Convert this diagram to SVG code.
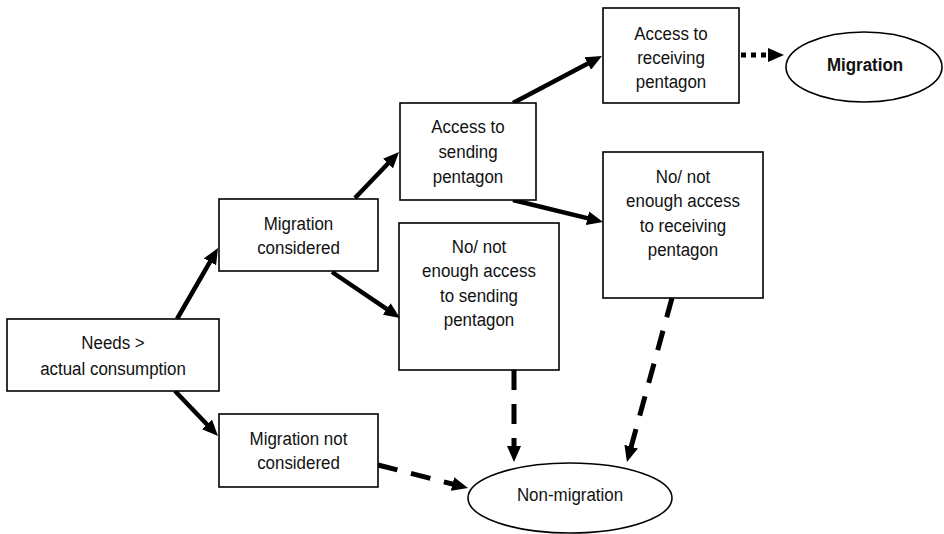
<svg xmlns="http://www.w3.org/2000/svg" width="944" height="534" viewBox="0 0 944 534">
<style>
.box{fill:#fff;stroke:#000;stroke-width:1.6}
.t{font-family:"Liberation Sans",Arial,sans-serif;font-size:18.8px;fill:#111;text-anchor:middle}
.b{font-weight:bold}
.solid{fill:none;stroke:#000;stroke-width:4.5;marker-end:url(#ah)}
.dash{fill:none;stroke:#000;stroke-width:5;stroke-dasharray:20 14;marker-end:url(#ah)}
.dot{fill:none;stroke:#000;stroke-width:5;stroke-dasharray:5 5;marker-end:url(#ah)}
</style>
<defs>
<marker id="ah" markerUnits="userSpaceOnUse" markerWidth="16" markerHeight="14" refX="6" refY="7" orient="auto">
<path d="M0,0 L16,7 L0,14 z" fill="#000"/>
</marker>
</defs>
<rect width="944" height="534" fill="#fff"/>
<g id="connectors">
<line class="solid" x1="177" y1="319" x2="213" y2="256.7"/>
<line class="solid" x1="175" y1="391" x2="211.1" y2="428.8"/>
<line class="solid" x1="332" y1="272" x2="391.7" y2="312.4"/>
<line class="solid" x1="355" y1="198" x2="392.1" y2="159.2"/>
<line class="solid" x1="513" y1="103" x2="593.1" y2="60.7"/>
<line class="solid" x1="513" y1="200" x2="593.3" y2="219.6"/>
<line class="dot" x1="741" y1="55" x2="774" y2="55"/>
<line class="dash" x1="514" y1="370" x2="514" y2="452"/>
<line class="dash" x1="672" y1="298" x2="629.6" y2="452.4"/>
<line class="dash" x1="378" y1="465" x2="458.3" y2="485.5"/>
</g>
<g id="needs">
<rect class="box" x="7" y="319" width="212" height="72"/>
<text class="t" transform="translate(113 349) scale(0.9 1)">Needs &gt;</text>
<text class="t" transform="translate(113 375) scale(0.9 1)">actual consumption</text>
</g>
<g id="migration-considered">
<rect class="box" x="219" y="199" width="159" height="72"/>
<text class="t" transform="translate(298.5 230) scale(0.9 1)">Migration</text>
<text class="t" transform="translate(298.5 254) scale(0.9 1)">considered</text>
</g>
<g id="migration-not-considered">
<rect class="box" x="219" y="414" width="159" height="73"/>
<text class="t" transform="translate(298.5 445) scale(0.9 1)">Migration not</text>
<text class="t" transform="translate(298.5 469) scale(0.9 1)">considered</text>
</g>
<g id="access-sending">
<rect class="box" x="400" y="103" width="136" height="97"/>
<text class="t" transform="translate(468 133) scale(0.9 1)">Access to</text>
<text class="t" transform="translate(468 158) scale(0.9 1)">sending</text>
<text class="t" transform="translate(468 183) scale(0.9 1)">pentagon</text>
</g>
<g id="no-access-sending">
<rect class="box" x="399" y="223" width="160" height="147"/>
<text class="t" transform="translate(479 253) scale(0.9 1)">No/ not</text>
<text class="t" transform="translate(479 277) scale(0.9 1)">enough access</text>
<text class="t" transform="translate(479 302) scale(0.9 1)">to sending</text>
<text class="t" transform="translate(479 326) scale(0.9 1)">pentagon</text>
</g>
<g id="access-receiving">
<rect class="box" x="603" y="8" width="136" height="95"/>
<text class="t" transform="translate(671 40) scale(0.9 1)">Access to</text>
<text class="t" transform="translate(671 64) scale(0.9 1)">receiving</text>
<text class="t" transform="translate(671 88) scale(0.9 1)">pentagon</text>
</g>
<g id="no-access-receiving">
<rect class="box" x="603" y="152" width="160" height="146"/>
<text class="t" transform="translate(683 183) scale(0.9 1)">No/ not</text>
<text class="t" transform="translate(683 207) scale(0.9 1)">enough access</text>
<text class="t" transform="translate(683 232) scale(0.9 1)">to receiving</text>
<text class="t" transform="translate(683 256) scale(0.9 1)">pentagon</text>
</g>
<g id="migration">
<ellipse class="box" cx="864" cy="67" rx="78" ry="35"/>
<text class="t b" transform="translate(865 71) scale(0.9 1)">Migration</text>
</g>
<g id="non-migration">
<ellipse class="box" cx="570" cy="498" rx="102" ry="35"/>
<text class="t" transform="translate(570 501) scale(0.9 1)">Non-migration</text>
</g>
</svg>
